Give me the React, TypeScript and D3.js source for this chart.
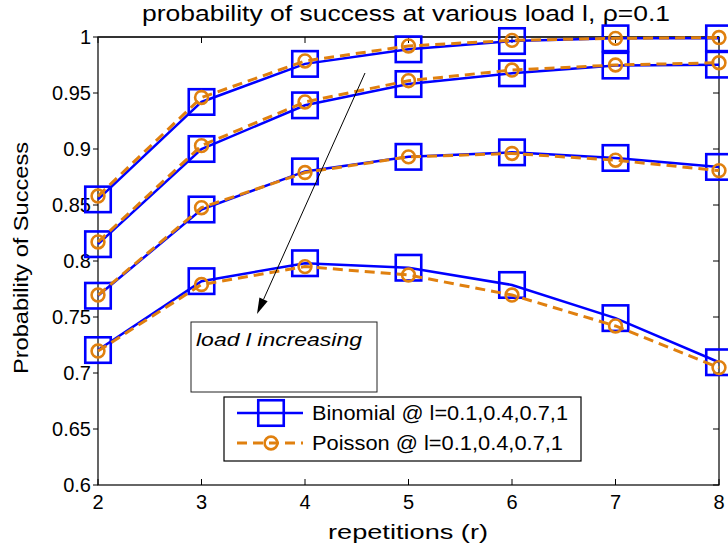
import React from "react";
import * as d3 from "d3";

// repetitions on the x axis
const repetitions = [2, 3, 4, 5, 6, 7, 8];

// Binomial model, one series per load l
const binomialL01 = [0.855, 0.942, 0.976, 0.989, 0.9964, 0.9988, 0.9988];
const binomialL04 = [0.815, 0.9, 0.939, 0.958, 0.9676, 0.9745, 0.9753];
const binomialL07 = [0.769, 0.846, 0.88, 0.893, 0.897, 0.892, 0.884];
const binomialL1 = [0.7205, 0.782, 0.798, 0.794, 0.7786, 0.749, 0.7096];

// Poisson approximation, one series per load l
const poissonL01 = [0.858, 0.946, 0.9786, 0.992, 0.997, 0.9988, 0.9995];
const poissonL04 = [0.817, 0.903, 0.942, 0.961, 0.9705, 0.975, 0.977];
const poissonL07 = [0.7696, 0.8476, 0.879, 0.893, 0.896, 0.89, 0.8807];
const poissonL1 = [0.7196, 0.779, 0.795, 0.7875, 0.7696, 0.742, 0.7048];

const xTicks = [2, 3, 4, 5, 6, 7, 8];
const yTicks = [0.6, 0.65, 0.7, 0.75, 0.8, 0.85, 0.9, 0.95, 1];

const binomialSeries = [binomialL01, binomialL04, binomialL07, binomialL1];
const poissonSeries = [poissonL01, poissonL04, poissonL07, poissonL1];

const BLUE = "#0000ff";
const ORANGE = "#e0800f";
const FONT = "'Liberation Sans', Arial, Helvetica, sans-serif";

const W = 728;
const H = 550;
const left = 98;
const right = 719;
const top = 37;
const bottom = 485;

export default function App() {
  const x = d3.scaleLinear().domain([2, 8]).range([left, right]);
  const y = d3.scaleLinear().domain([0.6, 1]).range([bottom, top]);

  const line = d3
    .line<number>()
    .x((_, i) => x(repetitions[i]))
    .y((d) => y(d));

  const sq = 25.5;
  const cr = 6.4;

  // legend geometry
  const lg = { x0: 224, y0: 397, x1: 581, y1: 461 };
  const row1 = 413;
  const row2 = 443;

  // arrow of the annotation
  const ax0 = 365, ay0 = 73, ax1 = 257, ay1 = 314;
  const ang = Math.atan2(ay1 - ay0, ax1 - ax0);
  const hl = 16, hw = 4.5;
  const bx = ax1 - hl * Math.cos(ang);
  const by = ay1 - hl * Math.sin(ang);
  const head = [
    [ax1, ay1],
    [bx + hw * Math.sin(ang), by - hw * Math.cos(ang)],
    [bx - hw * Math.sin(ang), by + hw * Math.cos(ang)],
  ];

  return (
    <svg
      width={W}
      height={H}
      style={{ position: "absolute", left: 0, top: 0, background: "#fff" }}
      fontFamily={FONT}
    >
      <rect x={0} y={0} width={W} height={H} fill="#fff" />

      {/* title */}
      <text x={406} y={21} fontSize={22} textAnchor="middle" textLength={528} lengthAdjust="spacingAndGlyphs">
        probability of success at various load l, ρ=0.1
      </text>

      {/* axes box */}
      <rect x={left} y={top} width={right - left} height={bottom - top} fill="none" stroke="#000" strokeWidth={1.2} />
      <line x1={left} x2={right} y1={top} y2={top} stroke="#333" strokeWidth={2} />

      {/* x ticks */}
      {xTicks.map((t) => (
        <g key={"xt" + t}>
          <line x1={x(t)} x2={x(t)} y1={bottom} y2={bottom - 6} stroke="#000" strokeWidth={1} />
          <line x1={x(t)} x2={x(t)} y1={top} y2={top + 6} stroke="#000" strokeWidth={1} />
          <text x={x(t)} y={509} fontSize={20} textAnchor="middle">
            {t}
          </text>
        </g>
      ))}

      {/* y ticks */}
      {yTicks.map((t) => (
        <g key={"yt" + t}>
          <line x1={left - 5} x2={left} y1={y(t)} y2={y(t)} stroke="#000" strokeWidth={1} />
          <line x1={right} x2={right - 6} y1={y(t)} y2={y(t)} stroke="#000" strokeWidth={1} />
          <text x={91} y={y(t) + 7} fontSize={20} textAnchor="end">
            {t}
          </text>
        </g>
      ))}

      {/* axis labels */}
      <text x={408} y={539} fontSize={21} textAnchor="middle" textLength={160} lengthAdjust="spacingAndGlyphs">
        repetitions (r)
      </text>
      <text
        transform={`translate(28, 258) rotate(-90)`}
        fontSize={21}
        textAnchor="middle"
        textLength={232}
        lengthAdjust="spacingAndGlyphs"
      >
        Probability of Success
      </text>

      {/* Binomial curves with square markers */}
      {binomialSeries.map((s, k) => (
        <g key={"b" + k}>
          <path d={line(s) || ""} fill="none" stroke={BLUE} strokeWidth={2.5} />
          {s.map((v, i) => (
            <rect
              key={i}
              x={x(repetitions[i]) - sq / 2}
              y={y(v) - sq / 2}
              width={sq}
              height={sq}
              fill="none"
              stroke={BLUE}
              strokeWidth={2.6}
            />
          ))}
        </g>
      ))}

      {/* Poisson curves with circle markers */}
      {poissonSeries.map((s, k) => (
        <g key={"p" + k}>
          <path d={line(s) || ""} fill="none" stroke={ORANGE} strokeWidth={3} strokeDasharray="10,6" />
          {s.map((v, i) => (
            <circle key={i} cx={x(repetitions[i])} cy={y(v)} r={cr} fill="none" stroke={ORANGE} strokeWidth={2.6} />
          ))}
        </g>
      ))}

      {/* annotation arrow */}
      <line x1={ax0} y1={ay0} x2={bx} y2={by} stroke="#000" strokeWidth={1} />
      <polygon points={head.map((p) => p.join(",")).join(" ")} fill="#000" />

      {/* annotation text box */}
      <rect x={191} y={322} width={186} height={70} fill="#fff" stroke="#222" strokeWidth={1} />
      <text x={196} y={346} fontSize={19} fontStyle="italic" textLength={166} lengthAdjust="spacingAndGlyphs">
        load l increasing
      </text>

      {/* legend */}
      <rect x={lg.x0} y={lg.y0} width={lg.x1 - lg.x0} height={lg.y1 - lg.y0} fill="#fff" stroke="#000" strokeWidth={1.2} />
      <line x1={237} x2={303} y1={row1} y2={row1} stroke={BLUE} strokeWidth={2.5} />
      <rect x={271 - sq / 2} y={row1 - sq / 2} width={sq} height={sq} fill="none" stroke={BLUE} strokeWidth={2.6} />
      <text x={312} y={row1 + 7} fontSize={20} textLength={256} lengthAdjust="spacingAndGlyphs">
        Binomial @ l=0.1,0.4,0.7,1
      </text>
      <line x1={237} x2={303} y1={row2} y2={row2} stroke={ORANGE} strokeWidth={3} strokeDasharray="10,6" />
      <circle cx={271} cy={row2} r={cr} fill="none" stroke={ORANGE} strokeWidth={2.6} />
      <text x={312} y={row2 + 7} fontSize={20} textLength={251} lengthAdjust="spacingAndGlyphs">
        Poisson @ l=0.1,0.4,0.7,1
      </text>
    </svg>
  );
}
